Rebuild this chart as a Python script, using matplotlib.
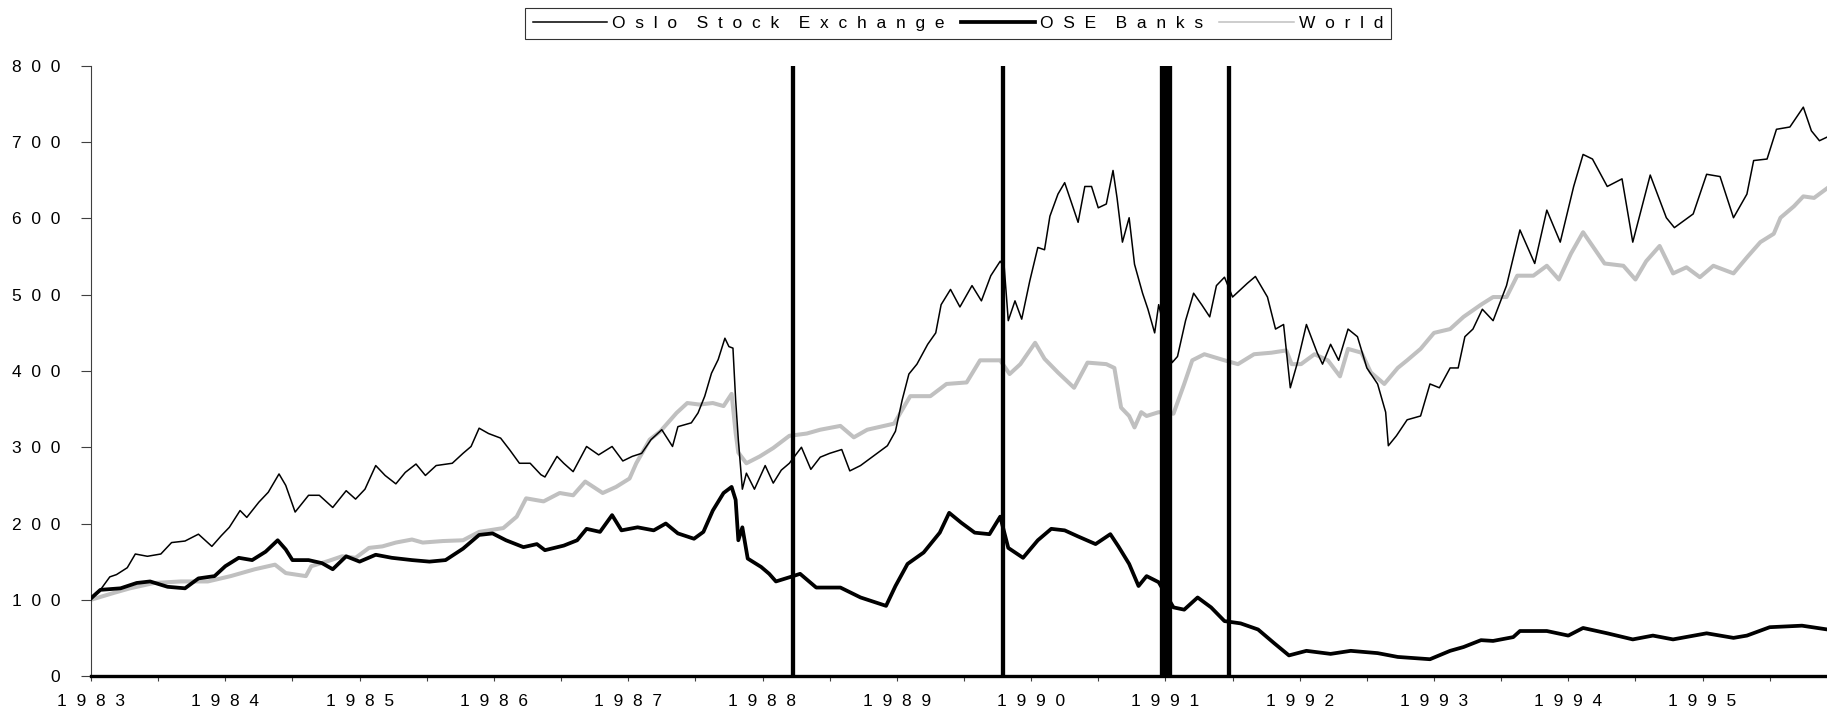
#!/usr/bin/python3
# -*- coding: utf-8 -*-
import matplotlib
matplotlib.use('Agg')
import matplotlib.pyplot as plt
from matplotlib.lines import Line2D
from matplotlib.ticker import FixedLocator, MultipleLocator

# Oslo Stock Exchange (all shares), index 1983 = 100
ose_t = [1983.00, 1983.07, 1983.14, 1983.19, 1983.27, 1983.33, 1983.42, 1983.52, 1983.60, 1983.70,
         1983.80, 1983.90, 1983.97, 1984.03, 1984.11, 1984.16, 1984.25, 1984.32, 1984.40, 1984.45,
         1984.52, 1984.62, 1984.70, 1984.80, 1984.90, 1984.97, 1985.04, 1985.12, 1985.19, 1985.27,
         1985.34, 1985.42, 1985.49, 1985.57, 1985.69, 1985.77, 1985.83, 1985.89, 1985.96, 1986.05,
         1986.12, 1986.19, 1986.27, 1986.35, 1986.38, 1986.47, 1986.52, 1986.59, 1986.69, 1986.78,
         1986.88, 1986.96, 1987.03, 1987.10, 1987.17, 1987.25, 1987.33, 1987.37, 1987.47, 1987.52,
         1987.57, 1987.62, 1987.67, 1987.72, 1987.75, 1987.78, 1987.80, 1987.82, 1987.85, 1987.88,
         1987.94, 1988.02, 1988.08, 1988.14, 1988.20, 1988.29, 1988.36, 1988.43, 1988.50, 1988.59,
         1988.65, 1988.73, 1988.83, 1988.93, 1988.99, 1989.04, 1989.09, 1989.15, 1989.23, 1989.29,
         1989.33, 1989.40, 1989.47, 1989.56, 1989.63, 1989.70, 1989.77, 1989.80, 1989.83, 1989.88,
         1989.93, 1989.99, 1990.05, 1990.10, 1990.14, 1990.20, 1990.25, 1990.30, 1990.35, 1990.40,
         1990.45, 1990.50, 1990.56, 1990.61, 1990.64, 1990.68, 1990.73, 1990.77, 1990.83, 1990.87,
         1990.92, 1990.95, 1991.05, 1991.09, 1991.15, 1991.21, 1991.27, 1991.33, 1991.38, 1991.44,
         1991.50, 1991.61, 1991.67, 1991.76, 1991.82, 1991.88, 1991.93, 1991.98, 1992.05, 1992.13,
         1992.17, 1992.23, 1992.29, 1992.36, 1992.43, 1992.50, 1992.58, 1992.64, 1992.66, 1992.72,
         1992.80, 1992.90, 1992.97, 1993.04, 1993.12, 1993.18, 1993.23, 1993.29, 1993.36, 1993.44,
         1993.54, 1993.64, 1993.75, 1993.84, 1993.94, 1994.04, 1994.11, 1994.18, 1994.29, 1994.40,
         1994.48, 1994.61, 1994.73, 1994.79, 1994.93, 1995.03, 1995.13, 1995.23, 1995.33, 1995.38,
         1995.48, 1995.55, 1995.65, 1995.75, 1995.81, 1995.87, 1995.93]
ose_v = [100, 113, 130, 133, 142, 160, 157, 160, 175, 177,
         186, 170, 184, 195, 217, 208, 228, 241, 265, 250,
         215, 237, 237, 221, 243, 232, 245, 276, 263, 252,
         267, 278, 263, 276, 279, 292, 301, 325, 318, 312,
         296, 279, 279, 264, 261, 288, 279, 268, 301, 290,
         301, 282, 288, 292, 310, 323, 301, 327, 332, 345,
         367, 397, 415, 443, 432, 430, 362, 310, 245, 266,
         245, 276, 253, 270, 279, 300, 271, 287, 292, 297,
         269, 276, 289, 302, 321, 362, 396, 409, 435, 450,
         487, 507, 484, 512, 492, 525, 544, 536, 466, 492,
         468, 518, 562, 559, 603, 632, 647, 621, 595, 642,
         642, 614, 619, 663, 627, 569, 601, 540, 502, 481,
         450, 487, 411, 419, 466, 502, 487, 471, 512, 523,
         497, 515, 524, 497, 455, 461, 378, 409, 461, 424,
         409, 435, 414, 455, 445, 404, 383, 346, 302, 315,
         336, 341, 383, 378, 404, 404, 445, 455, 481, 466,
         512, 585, 541, 611, 569, 642, 684, 678, 642, 652,
         569, 657, 601, 588, 606, 658, 655, 601, 632, 676,
         678, 717, 720, 746, 715, 702, 707]

# OSE bank index
bank_t = [1983.00, 1983.07, 1983.22, 1983.34, 1983.44, 1983.57, 1983.70, 1983.80, 1983.92, 1984.00,
          1984.10, 1984.20, 1984.30, 1984.39, 1984.45, 1984.50, 1984.62, 1984.72, 1984.80, 1984.90,
          1985.00, 1985.12, 1985.24, 1985.39, 1985.52, 1985.64, 1985.77, 1985.89, 1985.99, 1986.09,
          1986.22, 1986.32, 1986.38, 1986.52, 1986.62, 1986.69, 1986.79, 1986.88, 1986.95, 1987.07,
          1987.19, 1987.28, 1987.37, 1987.49, 1987.56, 1987.63, 1987.71, 1987.77, 1987.80, 1987.82,
          1987.85, 1987.89, 1987.99, 1988.05, 1988.10, 1988.21, 1988.28, 1988.40, 1988.58, 1988.73,
          1988.92, 1988.99, 1989.08, 1989.20, 1989.32, 1989.39, 1989.48, 1989.58, 1989.69, 1989.77,
          1989.83, 1989.94, 1990.05, 1990.15, 1990.25, 1990.35, 1990.48, 1990.59, 1990.65, 1990.73,
          1990.80, 1990.86, 1990.95, 1991.06, 1991.14, 1991.24, 1991.34, 1991.44, 1991.56, 1991.69,
          1991.81, 1991.92, 1992.05, 1992.23, 1992.38, 1992.58, 1992.73, 1992.97, 1993.12, 1993.22,
          1993.35, 1993.44, 1993.59, 1993.64, 1993.84, 1994.00, 1994.11, 1994.29, 1994.48, 1994.63,
          1994.78, 1995.03, 1995.23, 1995.33, 1995.50, 1995.74, 1995.93]
bank_v = [102, 113, 115, 122, 124, 117, 115, 128, 131, 144,
          155, 152, 163, 178, 166, 152, 152, 148, 140, 157,
          150, 159, 155, 152, 150, 152, 167, 185, 187, 178,
          169, 173, 165, 171, 178, 193, 189, 211, 191, 195,
          191, 200, 187, 180, 189, 217, 240, 248, 231, 178,
          195, 154, 143, 134, 124, 130, 134, 116, 116, 103,
          92, 118, 147, 162, 188, 214, 201, 188, 186, 209,
          168, 155, 178, 193, 191, 183, 173, 186, 170, 147,
          118, 131, 123, 90, 87, 103, 90, 72, 69, 61,
          43, 27, 33, 29, 33, 30, 25, 22, 33, 38,
          47, 46, 51, 59, 59, 53, 63, 56, 48, 53,
          48, 56, 50, 53, 64, 66, 61]

# World index
world_t = [1983.00, 1983.17, 1983.29, 1983.47, 1983.67, 1983.87, 1984.04, 1984.22, 1984.37, 1984.45,
           1984.60, 1984.64, 1984.77, 1984.87, 1984.97, 1985.07, 1985.17, 1985.27, 1985.39, 1985.47,
           1985.62, 1985.77, 1985.89, 1986.07, 1986.17, 1986.24, 1986.37, 1986.49, 1986.59, 1986.68,
           1986.81, 1986.91, 1987.01, 1987.06, 1987.16, 1987.24, 1987.36, 1987.44, 1987.53, 1987.63,
           1987.71, 1987.77, 1987.80, 1987.82, 1987.88, 1987.98, 1988.08, 1988.20, 1988.33, 1988.43,
           1988.58, 1988.68, 1988.78, 1988.98, 1989.05, 1989.10, 1989.25, 1989.37, 1989.52, 1989.62,
           1989.77, 1989.84, 1989.92, 1990.03, 1990.10, 1990.20, 1990.32, 1990.42, 1990.56, 1990.62,
           1990.67, 1990.73, 1990.77, 1990.82, 1990.86, 1990.95, 1991.06, 1991.14, 1991.20, 1991.29,
           1991.44, 1991.54, 1991.66, 1991.79, 1991.90, 1991.94, 1992.01, 1992.11, 1992.21, 1992.30,
           1992.36, 1992.46, 1992.53, 1992.63, 1992.73, 1992.80, 1992.90, 1993.00, 1993.12, 1993.22,
           1993.35, 1993.44, 1993.54, 1993.62, 1993.74, 1993.84, 1993.93, 1994.02, 1994.11, 1994.18,
           1994.27, 1994.41, 1994.50, 1994.58, 1994.68, 1994.78, 1994.88, 1994.98, 1995.08, 1995.23,
           1995.33, 1995.43, 1995.53, 1995.58, 1995.68, 1995.75, 1995.83, 1995.93]
world_v = [100, 109, 115, 122, 124, 124, 131, 140, 146, 135,
           131, 144, 151, 157, 155, 168, 170, 175, 179, 175,
           177, 178, 189, 194, 209, 233, 229, 240, 237, 255,
           240, 248, 259, 279, 310, 321, 345, 358, 356, 358,
           354, 370, 319, 293, 279, 288, 299, 315, 318, 323,
           328, 313, 323, 331, 352, 367, 367, 383, 385, 414,
           414, 396, 409, 437, 416, 398, 378, 411, 409, 404,
           352, 341, 326, 346, 341, 346, 344, 383, 414, 422,
           414, 409, 422, 424, 427, 409, 409, 422, 414, 393,
           429, 424, 398, 383, 404, 414, 429, 450, 455, 471,
           487, 497, 497, 525, 525, 538, 520, 554, 582, 564,
           541, 538, 520, 544, 564, 528, 536, 523, 538, 528,
           549, 569, 580, 601, 616, 629, 627, 640]

# banking crisis dates (dummy series drawn as full-height bars)
crisis_dates = [1988.23, 1989.79, 1990.975, 1990.995, 1991.015, 1991.035, 1991.47]

years = list(range(1983, 1996))
yticks = [0, 100, 200, 300, 400, 500, 600, 700, 800]
series_names = ['Oslo Stock Exchange', 'OSE Banks', 'World']


def spaced(s):
    # old export style: letters tracked apart, words further apart
    return '    '.join('  '.join(w) for w in s.split(' '))


W, H = 1827, 714
fig = plt.figure(figsize=(W / 100, H / 100), dpi=100)
ax = fig.add_axes([91 / W, 1 - 676 / H, 1 - 91 / W, (676 - 66) / H])

ax.vlines(crisis_dates, 0, 800, colors='black', lw=3.1, zorder=4)
ax.plot(world_t, world_v, color='#c0c0c0', lw=2.9, zorder=2)
ax.plot(bank_t, bank_v, color='black', lw=2.7, zorder=3)
ax.plot(ose_t, ose_v, color='black', lw=1.1, zorder=3)

ax.set_xlim(1983, 1983 + (W - 91) / 134.3)
ax.set_ylim(0, 800)

for s in ['top', 'right']:
    ax.spines[s].set_visible(False)
ax.spines['left'].set_color('#404040')
ax.spines['left'].set_linewidth(0.8)
ax.spines['bottom'].set_color('black')
ax.spines['bottom'].set_linewidth(2.4)

ax.xaxis.set_major_locator(FixedLocator(years))
ax.xaxis.set_minor_locator(MultipleLocator(0.5))
ax.set_xticklabels([spaced(str(y)) for y in years], family='Liberation Sans', fontsize=12.5)
ax.set_yticks(yticks)
ax.set_yticklabels([spaced(str(v)) for v in yticks], family='Liberation Sans', fontsize=12.5)
ax.tick_params(axis='x', which='both', direction='out', length=3.6, width=0.8, color='#404040', pad=9)
ax.tick_params(axis='y', direction='out', length=7, width=0.8, color='#404040', pad=15)

handles = [Line2D([], [], color='black', lw=1.1),
           Line2D([], [], color='black', lw=2.7),
           Line2D([], [], color='#c0c0c0', lw=1.1)]
leg = fig.legend(handles, [spaced(n) for n in series_names],
                 loc='center', bbox_to_anchor=(958 / W, 1 - 23.5 / H), ncol=3,
                 prop={'family': 'Liberation Sans', 'size': 12.5},
                 frameon=True, fancybox=False, handlelength=4.3, handletextpad=0.3,
                 columnspacing=0.9, borderpad=0.45, borderaxespad=0)
leg.get_frame().set_edgecolor('black')
leg.get_frame().set_linewidth(0.8)

plt.savefig('out.png', dpi=100)
